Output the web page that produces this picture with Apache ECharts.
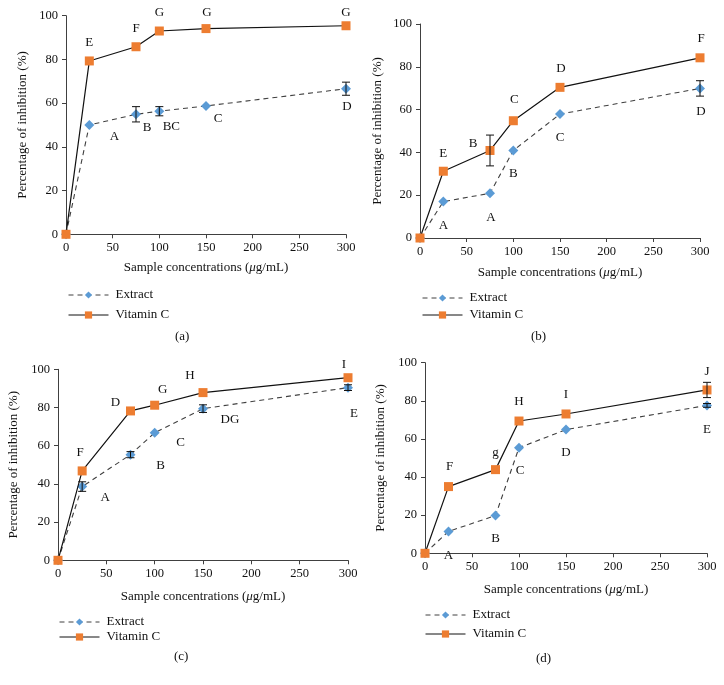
<!DOCTYPE html>
<html>
<head>
<meta charset="utf-8">
<script src="https://cdn.jsdelivr.net/npm/echarts@6/dist/echarts.min.js"></script>
<style>html,body{margin:0;padding:0;background:#fff}#c{width:724px;height:685px}</style>
</head>
<body>
<div id="c"></div>
<script>
// ---------- data ----------
const concentrations = [0, 25, 75, 100, 150, 300];
const xTicks = [0, 50, 100, 150, 200, 250, 300];
const yTicks = [0, 20, 40, 60, 80, 100];

// panel (a)
const extractA = [0, 50.0, 54.9, 56.3, 58.7, 66.6];
const extractErrA = [0, 0.5, 3.5, 2.1, 0.8, 3.0];
const vitCA = [0, 79.3, 85.8, 93.0, 94.1, 95.4];
const vitCErrA = [0, 0.5, 0.5, 0.5, 0.5, 0.5];
const extractLettersA = ['', 'A', 'B', 'BC', 'C', 'D'];
const vitCLettersA = ['', 'E', 'F', 'G', 'G', 'G'];

// panel (b)
const extractB = [0, 17.0, 20.9, 40.9, 57.9, 69.9];
const extractErrB = [0, 0.8, 0.8, 0.8, 0.8, 3.6];
const vitCB = [0, 31.2, 40.9, 54.8, 70.4, 84.2];
const vitCErrB = [0, 0.5, 7.2, 0.5, 0.5, 0.5];
const extractLettersB = ['', 'A', 'A', 'B', 'C', 'D'];
const vitCLettersB = ['', 'E', 'B', 'C', 'D', 'F'];

// panel (c)
const extractC = [0, 38.6, 55.3, 66.8, 79.4, 90.4];
const extractErrC = [0, 2.5, 1.6, 0.8, 2.0, 1.5];
const vitCC = [0, 46.8, 78.2, 81.2, 87.8, 95.6];
const vitCErrC = [0, 0.5, 0.5, 0.5, 0.5, 0.5];
const extractLettersC = ['', 'A', 'B', 'C', 'DG', 'E'];
const vitCLettersC = ['', 'F', 'D', 'G', 'H', 'I'];

// panel (d)
const extractD = [0, 11.5, 19.8, 55.4, 64.9, 77.6];
const extractErrD = [0, 0.8, 0.8, 0.8, 0.8, 1.0];
const vitCD = [0, 35.0, 43.9, 69.4, 73.1, 85.7];
const vitCErrD = [0, 0.5, 0.5, 0.5, 0.5, 4.0];
const extractLettersD = ['', 'A', 'B', 'C', 'D', 'E'];
const vitCLettersD = ['', 'F', 'g', 'H', 'I', 'J'];

const seriesNames = ['Extract', 'Vitamin C'];
const captions = ['(a)', '(b)', '(c)', '(d)'];

// ---------- layout / style ----------
const FONT = '"Liberation Serif", "DejaVu Serif", serif';
const BLUE = '#5B9BD5';
const ORANGE = '#ED7D31';
const AXIS = '#404040';

const panels = [
  { ext: extractA, extErr: extractErrA, vit: vitCA, vitErr: vitCErrA, extL: extractLettersA, vitL: vitCLettersA,
    grid: { left: 66, top: 15.7, width: 280, height: 218.6 },
    extOff: [[0,0],[25,12],[11,13],[12,15],[12,13],[1,18]],
    vitOff: [[0,0],[0,-18],[0,-18],[0,-18],[1,-16],[0,-13]],
    yGap: 37, xGap: 27, legend: { left: 68, top: 288.5, gap: 7 }, cap: [183, 338] },
  { ext: extractB, extErr: extractErrB, vit: vitCB, vitErr: vitCErrB, extL: extractLettersB, vitL: vitCLettersB,
    grid: { left: 420, top: 24, width: 280, height: 214 },
    extOff: [[0,0],[0,24],[1,24],[0,23],[0,23],[1,23]],
    vitOff: [[0,0],[0,-18],[-17,-7],[1,-21],[1,-19],[1,-19]],
    yGap: 36, xGap: 28, legend: { left: 422, top: 291.5, gap: 4 }, cap: [539, 338] },
  { ext: extractC, extErr: extractErrC, vit: vitCC, vitErr: vitCErrC, extL: extractLettersC, vitL: vitCLettersC,
    grid: { left: 58, top: 369.3, width: 290, height: 191 },
    extOff: [[0,0],[23,11],[30,11],[26,10],[27,11],[6,26]],
    vitOff: [[0,0],[-2,-18],[-15,-8],[8,-16],[-13,-17],[-4,-13]],
    yGap: 38, xGap: 30, legend: { left: 59, top: 615.5, gap: 2 }, cap: [182, 658] },
  { ext: extractD, extErr: extractErrD, vit: vitCD, vitErr: vitCErrD, extL: extractLettersD, vitL: vitCLettersD,
    grid: { left: 425, top: 362.7, width: 282, height: 190.6 },
    extOff: [[0,0],[0,24],[0,23],[1,23],[0,23],[0,24]],
    vitOff: [[0,0],[1,-20],[0,-17],[0,-19],[0,-19],[0,-18]],
    yGap: 38, xGap: 30, legend: { left: 425, top: 608.5, gap: 6 }, cap: [544, 660] }
];

const grids = [], xAxes = [], yAxes = [], series = [], legends = [], graphics = [];

function pointData(vals, letters, offs) {
  return concentrations.map((x, j) => {
    const d = { value: [x, vals[j]] };
    if (letters[j]) {
      d.label = { show: true, formatter: letters[j], position: 'inside', offset: offs[j],
        color: '#111', fontFamily: FONT, fontSize: 13, textBorderWidth: 0 };
    }
    return d;
  });
}

function errData(vals, errs) {
  return concentrations.map((x, j) => [x, vals[j], errs[j]]).filter(d => d[2] >= 1);
}

function errRender(params, api) {
  const x = api.value(0), y = api.value(1), e = api.value(2);
  const lo = api.coord([x, y - e]);
  const hi = api.coord([x, y + e]);
  const w = 4;
  const st = { stroke: '#111', lineWidth: 1 };
  return { type: 'group', children: [
    { type: 'line', shape: { x1: lo[0], y1: lo[1], x2: hi[0], y2: hi[1] }, style: st },
    { type: 'line', shape: { x1: lo[0] - w, y1: lo[1], x2: lo[0] + w, y2: lo[1] }, style: st },
    { type: 'line', shape: { x1: hi[0] - w, y1: hi[1], x2: hi[0] + w, y2: hi[1] }, style: st }
  ]};
}

panels.forEach((p, i) => {
  grids.push(Object.assign({ containLabel: false }, p.grid));
  xAxes.push({
    type: 'value', gridIndex: i, min: xTicks[0], max: xTicks[xTicks.length - 1], interval: xTicks[1] - xTicks[0],
    name: 'Sample concentrations ({i|μ}g/mL)', nameLocation: 'middle', nameGap: p.xGap,
    nameTextStyle: { fontFamily: FONT, fontSize: 13, color: '#111', verticalAlign: 'top',
      rich: { i: { fontStyle: 'italic', fontFamily: FONT, fontSize: 13, color: '#111' } } },
    axisLine: { show: true, lineStyle: { color: AXIS, width: 1 } },
    axisTick: { show: true, length: 4, lineStyle: { color: AXIS } },
    axisLabel: { fontFamily: FONT, fontSize: 12.5, color: '#111', margin: 7 },
    splitLine: { show: false }
  });
  yAxes.push({
    type: 'value', gridIndex: i, min: yTicks[0], max: yTicks[yTicks.length - 1], interval: yTicks[1] - yTicks[0],
    name: 'Percentage of inhibition (%)', nameLocation: 'middle', nameGap: p.yGap,
    nameTextStyle: { fontFamily: FONT, fontSize: 13, color: '#111' },
    axisLine: { show: true, lineStyle: { color: AXIS, width: 1 } },
    axisTick: { show: true, length: 4, lineStyle: { color: AXIS } },
    axisLabel: { fontFamily: FONT, fontSize: 12.5, color: '#111', margin: 8 },
    splitLine: { show: false }
  });
  series.push({
    name: seriesNames[0], type: 'line', xAxisIndex: i, yAxisIndex: i,
    data: pointData(p.ext, p.extL, p.extOff),
    symbol: 'diamond', symbolSize: 10, showAllSymbol: true,
    lineStyle: { color: AXIS, width: 1.1, type: [5, 4] },
    itemStyle: { color: BLUE }, z: 3, animation: false
  });
  series.push({
    name: seriesNames[1], type: 'line', xAxisIndex: i, yAxisIndex: i,
    data: pointData(p.vit, p.vitL, p.vitOff),
    symbol: 'rect', symbolSize: 9, showAllSymbol: true,
    lineStyle: { color: '#111', width: 1.2, type: 'solid' },
    itemStyle: { color: ORANGE }, z: 4, animation: false
  });
  series.push({
    name: 'err-ext-' + i, type: 'custom', xAxisIndex: i, yAxisIndex: i,
    data: errData(p.ext, p.extErr), renderItem: errRender, z: 6, silent: true, animation: false
  });
  series.push({
    name: 'err-vit-' + i, type: 'custom', xAxisIndex: i, yAxisIndex: i,
    data: errData(p.vit, p.vitErr), renderItem: errRender, z: 6, silent: true, animation: false
  });
  legends.push({
    data: seriesNames, orient: 'vertical', left: p.legend.left, top: p.legend.top,
    itemWidth: 40, itemHeight: 9, itemGap: p.legend.gap, padding: 0,
    lineStyle: { width: 1 },
    textStyle: { fontFamily: FONT, fontSize: 13, color: '#111', padding: [0, 0, 0, 2] },
    selectedMode: false
  });
  graphics.push({
    type: 'text', left: p.cap[0] - 8, top: p.cap[1] - 8,
    style: { text: captions[i], font: '13px ' + FONT, fill: '#111' }
  });
});

const chart = echarts.init(document.getElementById('c'), null, { renderer: 'canvas' });
chart.setOption({
  animation: false,
  backgroundColor: '#fff',
  grid: grids, xAxis: xAxes, yAxis: yAxes, series: series, legend: legends, graphic: graphics
});
</script>
</body>
</html>
